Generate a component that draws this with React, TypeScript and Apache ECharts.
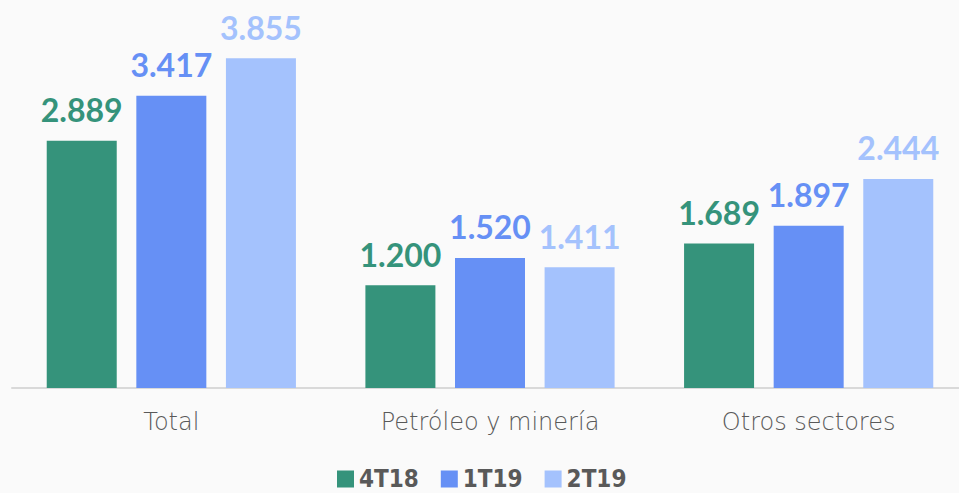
import React, { useEffect, useRef } from "react";
import * as echarts from "echarts";

const categories = ["Total", "Petróleo y minería", "Otros sectores"];
const seriesNames = ["4T18", "1T19", "2T19"];
const values4T18 = [2.889, 1.2, 1.689];
const values1T19 = [3.417, 1.52, 1.897];
const values2T19 = [3.855, 1.411, 2.444];
const colors = ["#35937B", "#6690F5", "#A4C2FD"];

export default function App() {
  const ref = useRef<HTMLDivElement>(null);
  useEffect(() => {
    document.body.style.margin = "0";
    document.body.style.background = "#FAFAFA";
    const chart = echarts.init(ref.current!, null, { renderer: "svg" });
    const data = [values4T18, values1T19, values2T19];
    chart.setOption({
      animation: false,
      backgroundColor: "#FAFAFA",
      grid: { left: 12, right: 7, top: 3, bottom: 105, containLabel: false },
      legend: {
        bottom: 2,
        padding: 0,
        left: 337,
        itemWidth: 17,
        itemHeight: 17,
        itemGap: 22,
        icon: "rect",
        textStyle: {
          fontSize: 24,
          fontWeight: "bold",
          color: "#595959",
          fontFamily: "'DejaVu Sans Condensed', 'Liberation Sans Narrow', sans-serif",
        },
        data: seriesNames,
      },
      xAxis: {
        type: "category",
        data: categories,
        axisLine: { lineStyle: { color: "#D9D9D9", width: 2 } },
        axisTick: { show: false },
        axisLabel: {
          fontSize: 24,
          color: "#595959",
          margin: 22,
          fontFamily: "'DejaVu Sans', sans-serif",
          fontWeight: 200,
        },
      },
      yAxis: {
        type: "value",
        min: 0,
        max: 4.5,
        show: false,
        splitLine: { show: false },
      },
      series: seriesNames.map((name, i) => ({
        name,
        type: "bar",
        data: data[i],
        barWidth: 70,
        barGap: "28%",
        barCategoryGap: "22%",
        itemStyle: { color: colors[i] },
        label: {
          show: true,
          position: "top",
          distance: 15,
          formatter: (p: any) => p.value.toFixed(3),
          fontSize: 32,
          fontWeight: "bold",
          color: colors[i],
          fontFamily: "Lato, 'Open Sans', sans-serif",
        },
      })),
    });
    return () => chart.dispose();
  }, []);
  return (
    <div style={{ width: 959, height: 493, overflow: "hidden", position: "relative" }}>
      <div ref={ref} style={{ width: 975, height: 493 }} />
    </div>
  );
}
